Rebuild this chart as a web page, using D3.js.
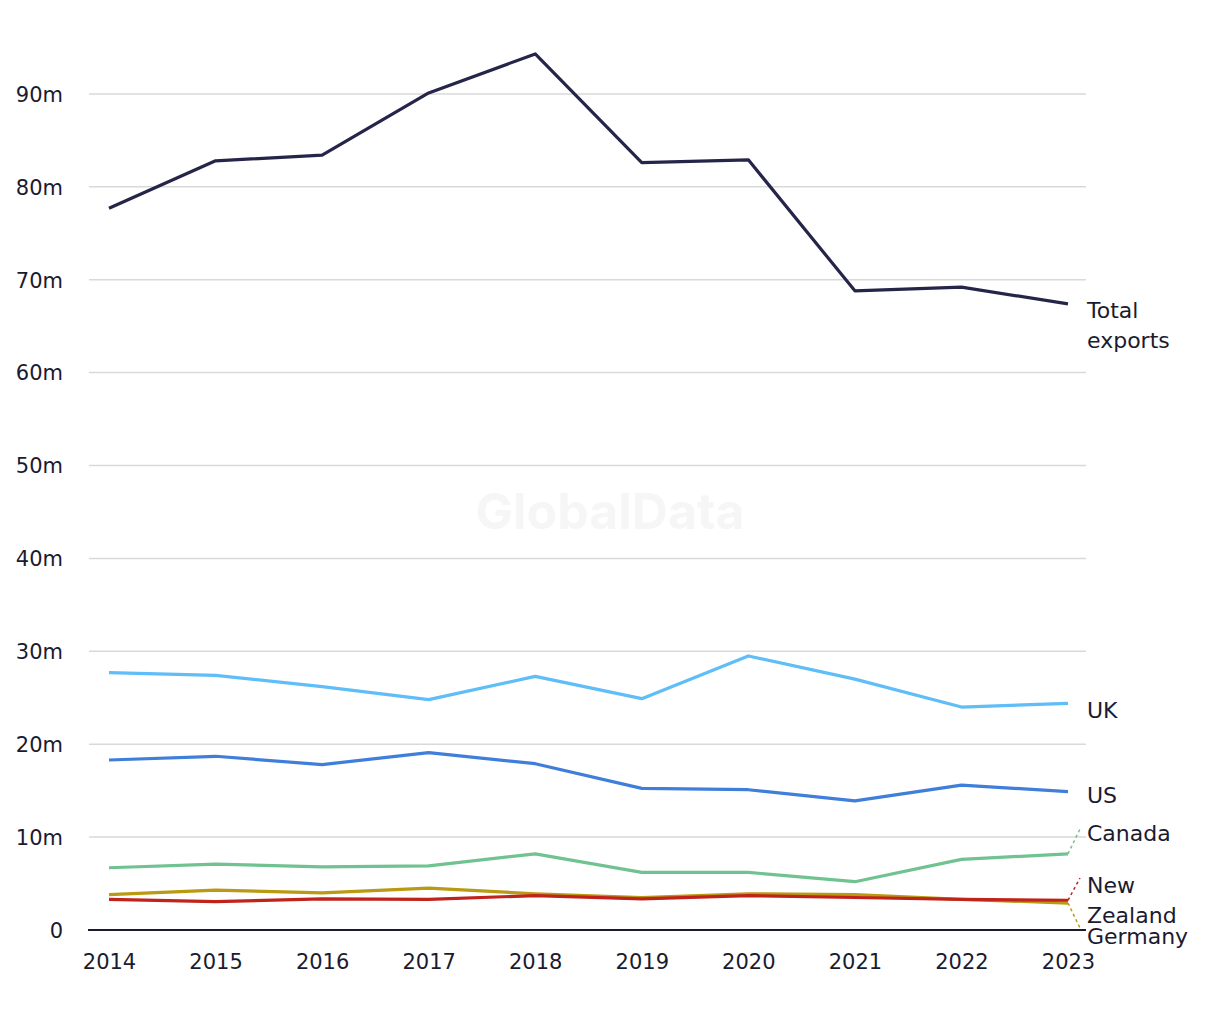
<!DOCTYPE html>
<html><head><meta charset="utf-8">
<script src="https://cdn.jsdelivr.net/npm/d3@7"></script>
<style>body{margin:0;background:#fff}svg{display:block}text{font-family:"DejaVu Sans",sans-serif}</style>
</head><body><svg id="c" width="1220" height="1020"></svg>
<script>
const years = [2014,2015,2016,2017,2018,2019,2020,2021,2022,2023];
const yTicks = [0,10,20,30,40,50,60,70,80,90];
const totalExports = [77.7,82.8,83.4,90.1,94.3,82.6,82.9,68.8,69.2,67.4];
const uk = [27.7,27.4,26.2,24.8,27.3,24.9,29.5,27.0,24.0,24.4];
const us = [18.3,18.7,17.8,19.1,17.9,15.25,15.1,13.9,15.6,14.9];
const canada = [6.7,7.1,6.8,6.9,8.2,6.2,6.2,5.2,7.6,8.2];
const germany = [3.8,4.3,4.0,4.5,3.9,3.5,3.9,3.8,3.3,2.9];
const newZealand = [3.3,3.05,3.35,3.3,3.7,3.35,3.7,3.5,3.3,3.2];

const series = [
  {name:["Total","exports"], values: totalExports, color:"#25254a", labelY:[318,348], leader:false},
  {name:["UK"], values: uk, color:"#5fbdf8", labelY:[718], leader:false},
  {name:["US"], values: us, color:"#3f7ed9", labelY:[803], leader:false},
  {name:["Canada"], values: canada, color:"#70c291", labelY:[841], leader:true, leaderY:829},
  {name:["Germany"], values: germany, color:"#b99a12", labelY:[944], leader:true, leaderY:928},
  {name:["New","Zealand"], values: newZealand, color:"#c0231b", labelY:[893,923], leader:true, leaderY:878}
];

const svg = d3.select("#c");
const x = d3.scalePoint().domain(years).range([109,1068]);
const y = d3.scaleLinear().domain([0,90]).range([930,93.9]);
const txt = "#1b1b2f";
const font = "'DejaVu Sans',sans-serif";

// watermark
svg.append("text").attr("x",610).attr("y",529).attr("text-anchor","middle")
  .style("font-family","Inter,'Noto Sans',sans-serif").style("font-size","50px").style("font-weight","700")
  .attr("fill","#f6f6f6").text("GlobalData");

// y axis
const yAxis = d3.axisLeft(y).tickValues(yTicks).tickSize(0).tickPadding(0)
  .tickFormat(d => d === 0 ? "0" : d + "m");
const gy = svg.append("g").attr("transform","translate(63,0)").call(yAxis);
gy.select(".domain").remove();
gy.selectAll("text").attr("font-size",21).attr("fill",txt).attr("font-family",font).attr("dy","0.35em");

svg.append("g").selectAll("line").data(yTicks.filter(d=>d>0)).join("line")
  .attr("x1",89).attr("x2",1086).attr("y1",d=>y(d)).attr("y2",d=>y(d))
  .attr("stroke","#d9d9d9").attr("stroke-width",1.5);
svg.append("line").attr("x1",88).attr("x2",1086).attr("y1",y(0)).attr("y2",y(0))
  .attr("stroke",txt).attr("stroke-width",2);

const xAxis = d3.axisBottom(x).tickSize(0).tickPadding(0);
const gx = svg.append("g").attr("transform","translate(0,962)").call(xAxis);
gx.select(".domain").remove();
gx.selectAll("text").attr("font-size",21).attr("fill",txt).attr("font-family",font).attr("dy","0.35em");

const line = d3.line().x((d,i)=>x(years[i])).y(d=>y(d));
series.forEach(s=>{
  svg.append("path").datum(s.values).attr("d",line).attr("fill","none")
    .attr("stroke",s.color).attr("stroke-width",3.2).attr("stroke-linejoin","round");
  const lastY = y(s.values[s.values.length-1]);
  if (s.leader) {
    svg.append("line").attr("x1",x(2023)).attr("y1",lastY).attr("x2",1080).attr("y2",s.leaderY)
      .attr("stroke",s.color).attr("stroke-width",1.5).attr("stroke-dasharray","3,3");
  }
  s.name.forEach((n,i)=>{
    svg.append("text").attr("x",1087).attr("y",s.labelY[i]).attr("font-size",22)
      .attr("fill",txt).attr("font-family",font).text(n);
  });
});
</script></body></html>
